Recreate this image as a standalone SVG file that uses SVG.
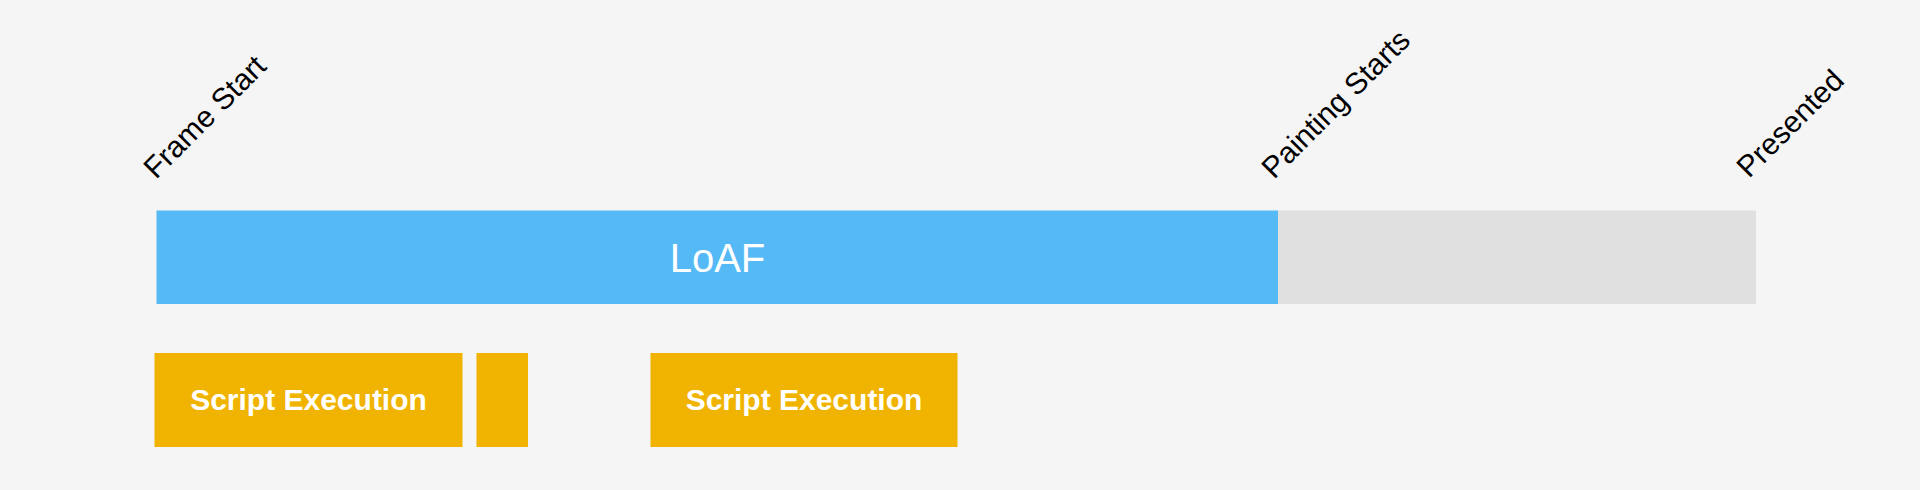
<svg xmlns="http://www.w3.org/2000/svg" width="1920" height="490" viewBox="0 0 1920 490">
<style>
.lbl{font-family:"Liberation Sans",Arial,sans-serif;font-size:30px;fill:#000}
.loaf{font-family:"Liberation Sans",Arial,sans-serif;font-size:40px;fill:#fff;text-anchor:middle}
.se{font-family:"Liberation Sans",Arial,sans-serif;font-size:30px;font-weight:bold;fill:#fff;text-anchor:middle}
.task{fill:#f0b400}
</style>
<rect x="0" y="0" width="1920" height="490" fill="#f5f5f5"/>
<g id="labels">
<text class="lbl" transform="translate(156,180) rotate(-45)">Frame Start</text>
<text class="lbl" transform="translate(1274,180) rotate(-45)">Painting Starts</text>
<text class="lbl" transform="translate(1749,179) rotate(-45)">Presented</text>
</g>
<g id="loaf">
<rect x="156.5" y="210.5" width="1121.5" height="93.5" fill="#54b9f4"/>
<text class="loaf" x="717.5" y="272">LoAF</text>
</g>
<g id="presentation">
<rect x="1278" y="210.5" width="478" height="93.5" fill="#e0e0e0"/>
</g>
<g id="script1">
<rect class="task" x="154.5" y="353" width="308" height="94"/>
<text class="se" x="308.5" y="409.5">Script Execution</text>
</g>
<g id="script2">
<rect class="task" x="476.5" y="353" width="51.5" height="94"/>
</g>
<g id="script3">
<rect class="task" x="650.5" y="353" width="307" height="94"/>
<text class="se" x="804" y="409.5">Script Execution</text>
</g>
<g id="connectors"></g>
</svg>
